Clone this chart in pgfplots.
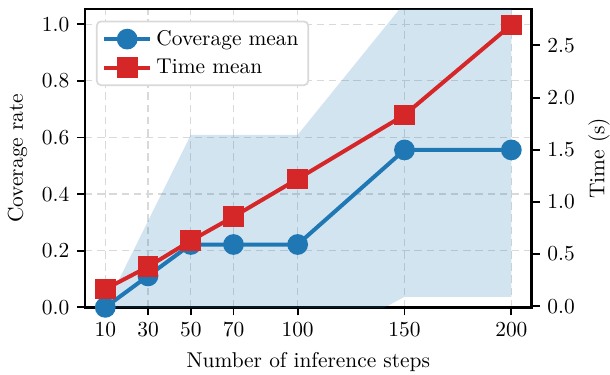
\documentclass[border=0pt]{standalone}
\usepackage{pgfplots}
\pgfplotsset{compat=1.18}
\definecolor{tabblue}{HTML}{1F77B4}
\definecolor{tabred}{HTML}{D62728}
\pgfplotsset{
  common/.style={
    scale only axis, width=208.7pt, height=139.3pt,
    xmin=0.5, xmax=209.5,
    tick align=outside, major tick length=3.8pt,
    every tick/.style={black, line width=0.9pt},
    axis line style={line width=1.1pt},
    yticklabel style={/pgf/number format/.cd,fixed,fixed zerofill,precision=1},
    xtick={10,30,50,70,100,150,200},
  },
}
\begin{document}
\begin{tikzpicture}
\path[use as bounding box] (-39.7pt,-31.6pt) rectangle (245.3pt,143.6pt);
\begin{axis}[common,
  ymin=0, ymax=1.053,
  ytick={0,0.2,0.4,0.6,0.8,1.0},
  xtick pos=lower, ytick pos=left,
  grid=major,
  major grid style={dash pattern=on 3.5pt off 2.2pt, color=black!15, line width=0.6pt},
  xlabel={Number of inference steps},
  ylabel={Coverage rate},
  xlabel style={at={(axis description cs:0.5,-0.1838)}, anchor=center},
  ylabel style={at={(axis description cs:-0.1509,0.5)}, anchor=center},
]
\addplot[fill=tabblue, fill opacity=0.2, draw=none, forget plot] coordinates {
  (10,0) (30,0.305) (50,0.609) (70,0.609) (100,0.609) (150,1.075) (200,1.075)
  (200,0.037) (150,0.037) (100,-0.165) (70,-0.165) (50,-0.165) (30,-0.083) (10,0)
} -- cycle;
\addplot[tabblue, line width=1.87pt, mark=*, mark size=3.9pt, mark options={fill=tabblue, draw=none}] coordinates {
  (10,0) (30,0.111) (50,0.222) (70,0.222) (100,0.222) (150,0.556) (200,0.556)
};
\end{axis}
\begin{axis}[common,
  ymin=-0.012, ymax=2.847,
  ytick={0,0.5,1.0,1.5,2.0,2.5},
  axis x line=none, axis y line*=right,
  ylabel={Time (s)},
  ylabel style={at={(axis description cs:1.1507,0.5)}, anchor=center},
  legend style={at={(0.0246,0.962)}, anchor=north west, draw=black!15, line width=0.8pt,
    rounded corners=2pt, fill=white,
    inner xsep=2.5pt, inner ysep=2pt, row sep=1pt,
    /tikz/every even column/.append style={column sep=0pt}},
  legend cell align=left,
  legend image code/.code={
    \draw[#1, mark repeat=2, mark phase=2] plot coordinates {(0pt,0pt) (10.75pt,0pt) (21.5pt,0pt)};
  },
]
\addlegendimage{tabblue, line width=1.87pt, mark=*, mark size=3.9pt, mark options={fill=tabblue, draw=none}}
\addlegendentry{Coverage mean}
\addplot[tabred, line width=1.87pt, mark=square*, mark size=3.9pt, mark options={fill=tabred, draw=none}] coordinates {
  (10,0.163) (30,0.377) (50,0.627) (70,0.857) (100,1.219) (150,1.833) (200,2.697)
};
\addlegendentry{Time mean}
\end{axis}
\end{tikzpicture}
\end{document}
